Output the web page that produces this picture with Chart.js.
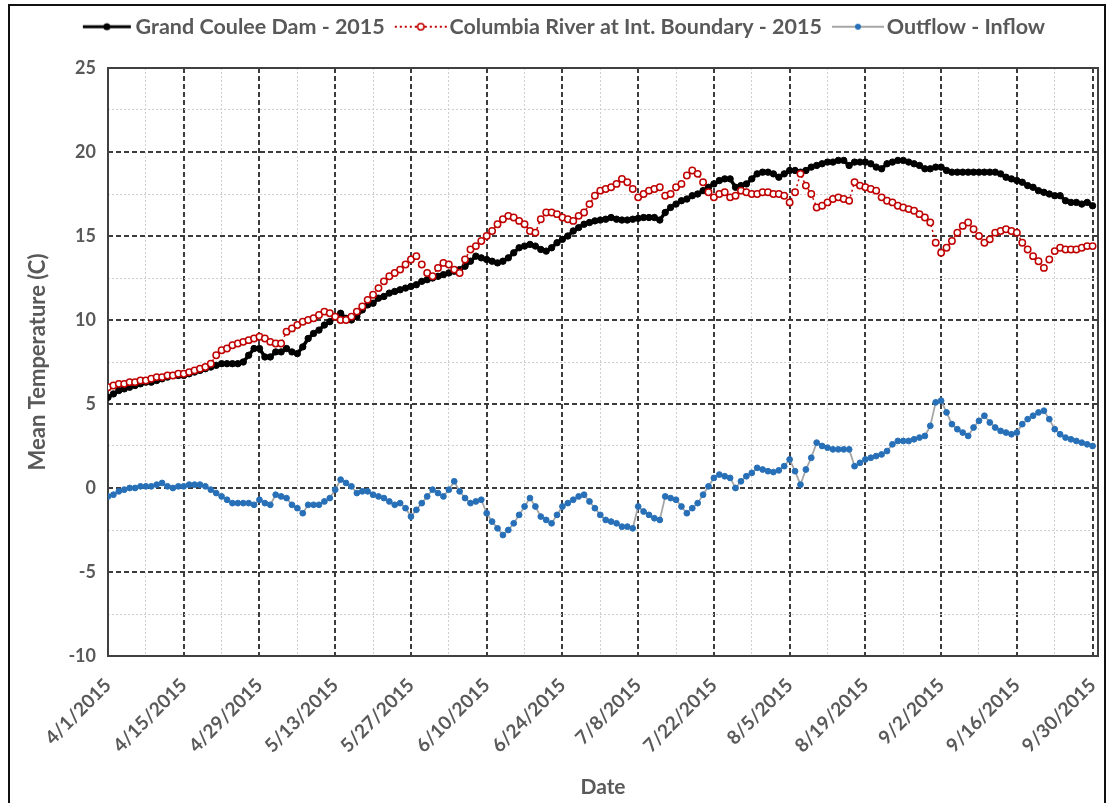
<!DOCTYPE html>
<html><head><meta charset="utf-8">
<script src="https://cdn.jsdelivr.net/npm/chart.js@4.4.0/dist/chart.umd.min.js"></script>
<style>html,body{margin:0;padding:0;background:#fff;}#wrap{width:1108px;height:803px;}</style>
</head><body><div id="wrap"><canvas id="c" width="1108" height="803"></canvas></div>
<script>
// ---- data ----
const seriesNames = ['Grand Coulee Dam - 2015', 'Columbia River at Int. Boundary - 2015', 'Outflow - Inflow'];
const tickLabels = ['4/1/2015','4/15/2015','4/29/2015','5/13/2015','5/27/2015','6/10/2015','6/24/2015','7/8/2015','7/22/2015','8/5/2015','8/19/2015','9/2/2015','9/16/2015','9/30/2015'];
const yTickValues = [-10, -5, 0, 5, 10, 15, 20, 25];
const xAxisTitle = 'Date';
const yAxisTitle = 'Mean Temperature (C)';

// daily values, 4/1/2015 .. 9/30/2015
const grandCoulee = [
 5.4,5.6,5.8,5.9,6.0,6.1,6.2,6.3,6.3,6.4,
 6.5,6.6,6.7,6.7,6.7,6.8,6.9,7.0,7.1,7.2,
 7.3,7.4,7.4,7.4,7.4,7.5,7.9,8.3,8.3,7.8,
 7.8,8.1,8.1,8.3,8.1,8.0,8.4,8.9,9.2,9.4,
 9.7,9.9,10.2,10.4,10.1,10.0,10.2,10.6,10.9,11.0,
 11.3,11.4,11.6,11.7,11.8,11.9,12.0,12.1,12.3,12.4,
 12.5,12.6,12.7,12.8,12.9,13.0,13.2,13.5,13.8,13.7,
 13.6,13.5,13.4,13.5,13.7,14.0,14.3,14.4,14.5,14.4,
 14.2,14.1,14.3,14.6,14.8,15.0,15.3,15.5,15.7,15.8,
 15.9,15.95,16.0,16.1,16.0,15.95,15.95,16.0,16.05,16.1,
 16.1,16.1,15.95,16.4,16.7,16.9,17.1,17.2,17.4,17.5,
 17.7,17.9,18.1,18.3,18.4,18.4,17.9,18.0,18.1,18.4,
 18.7,18.8,18.8,18.7,18.5,18.7,18.9,18.9,18.8,18.9,
 19.1,19.2,19.3,19.4,19.4,19.5,19.5,19.2,19.4,19.4,
 19.4,19.3,19.1,19.0,19.3,19.4,19.5,19.5,19.4,19.3,
 19.2,19.0,19.0,19.1,19.1,18.9,18.8,18.8,18.8,18.8,
 18.8,18.8,18.8,18.8,18.8,18.7,18.5,18.4,18.3,18.2,
 18.0,17.9,17.7,17.6,17.5,17.4,17.4,17.1,17.0,17.0,
 16.9,17.0,16.8
];
const columbiaBoundary = [
 6.0,6.1,6.2,6.2,6.3,6.3,6.4,6.4,6.5,6.6,
 6.6,6.7,6.7,6.8,6.8,6.9,7.0,7.1,7.2,7.4,
 7.9,8.2,8.3,8.5,8.6,8.7,8.8,8.9,9.0,8.9,
 8.7,8.6,8.6,9.3,9.5,9.7,9.9,10.0,10.1,10.3,
 10.5,10.4,10.2,10.0,10.0,10.2,10.5,10.8,11.2,11.5,
 11.9,12.3,12.6,12.8,13.0,13.3,13.6,13.8,13.3,12.8,
 12.6,13.1,13.4,13.3,13.0,12.8,13.6,14.2,14.4,14.7,
 15.0,15.3,15.7,16.0,16.2,16.1,15.9,15.7,15.3,15.2,
 16.0,16.4,16.4,16.3,16.1,16.0,15.9,16.2,16.4,16.9,
 17.4,17.7,17.8,17.9,18.1,18.4,18.2,17.8,17.3,17.5,
 17.7,17.8,17.9,17.4,17.5,17.9,18.1,18.6,18.9,18.7,
 18.2,17.6,17.3,17.5,17.6,17.3,17.4,17.7,17.6,17.5,
 17.5,17.6,17.6,17.5,17.5,17.4,17.0,17.6,18.7,18.0,
 17.5,16.7,16.8,17.0,17.2,17.3,17.2,17.1,18.2,18.0,
 17.9,17.8,17.7,17.3,17.1,17.0,16.8,16.7,16.6,16.5,
 16.3,16.1,15.8,14.6,14.0,14.3,14.7,15.2,15.6,15.8,
 15.4,15.0,14.6,14.8,15.2,15.3,15.4,15.3,15.2,14.6,
 14.2,13.8,13.5,13.1,13.6,14.1,14.3,14.2,14.2,14.2,
 14.3,14.4,14.4
];
const outflowMinusInflow = [
 -0.5,-0.4,-0.2,-0.1,0.0,0.0,0.1,0.1,0.1,0.2,
 0.3,0.1,0.0,0.1,0.1,0.2,0.2,0.2,0.1,-0.1,
 -0.3,-0.5,-0.7,-0.9,-0.9,-0.9,-0.9,-1.0,-0.7,-0.9,
 -1.0,-0.4,-0.5,-0.6,-1.0,-1.2,-1.5,-1.0,-1.0,-1.0,
 -0.8,-0.6,-0.1,0.5,0.3,0.1,-0.3,-0.2,-0.2,-0.4,
 -0.5,-0.6,-0.8,-1.0,-0.9,-1.2,-1.7,-1.3,-0.9,-0.5,
 -0.1,-0.3,-0.5,-0.1,0.4,-0.2,-0.6,-0.9,-0.8,-0.7,
 -1.5,-2.0,-2.4,-2.8,-2.5,-2.1,-1.6,-1.1,-0.6,-1.1,
 -1.7,-1.9,-2.1,-1.6,-1.1,-0.9,-0.7,-0.5,-0.4,-0.8,
 -1.2,-1.6,-1.9,-2.0,-2.1,-2.3,-2.3,-2.4,-1.1,-1.4,
 -1.6,-1.8,-1.9,-0.5,-0.6,-0.7,-1.1,-1.5,-1.2,-0.9,
 -0.4,0.1,0.6,0.8,0.7,0.6,0.0,0.4,0.7,0.9,
 1.2,1.1,1.0,0.95,1.05,1.3,1.7,1.0,0.2,1.1,
 1.8,2.7,2.5,2.4,2.3,2.3,2.3,2.3,1.3,1.5,
 1.7,1.8,1.9,2.0,2.2,2.6,2.8,2.8,2.8,2.9,
 3.0,3.1,3.7,5.1,5.2,4.5,3.8,3.5,3.3,3.1,
 3.6,4.0,4.3,3.9,3.6,3.4,3.3,3.2,3.3,3.8,
 4.1,4.3,4.5,4.6,4.1,3.5,3.2,3.0,2.9,2.8,
 2.7,2.6,2.5
];

// ---- styling ----
const TXT = '#595959';
const FONT = 'Lato, "Open Sans", sans-serif';
const MAJOR = '#3c3c3c';
const MINOR = '#cfcfcf';
const DAYS_PER_LABEL = 14;
const DAYS_PER_GRID = 7;

function toPoints(arr){ return arr.map((v,i)=>({x:i, y:v})); }

function swatch(kind){
  const c = document.createElement('canvas');
  c.width = 56; c.height = 12;
  const g = c.getContext('2d');
  const y = 6;
  if (kind === 0){
    g.strokeStyle = '#000'; g.lineWidth = 3;
    g.beginPath(); g.moveTo(4,y); g.lineTo(52,y); g.stroke();
    g.fillStyle = '#000'; g.beginPath(); g.arc(28,y,3.5,0,Math.PI*2); g.fill();
  } else if (kind === 1){
    g.strokeStyle = '#c00000'; g.lineWidth = 2; g.setLineDash([2,3]);
    g.beginPath(); g.moveTo(2,y); g.lineTo(54,y); g.stroke();
    g.setLineDash([]); g.fillStyle = '#fff'; g.lineWidth = 1.5;
    g.beginPath(); g.arc(28,y,3.2,0,Math.PI*2); g.fill(); g.stroke();
  } else {
    g.strokeStyle = '#a6a6a6'; g.lineWidth = 2;
    g.beginPath(); g.moveTo(2,y); g.lineTo(54,y); g.stroke();
    g.fillStyle = '#2770b8'; g.beginPath(); g.arc(28,y,3,0,Math.PI*2); g.fill();
  }
  return c;
}

const framePlugin = {
  id: 'frames',
  beforeLayout(chart){
    if (chart.legend && !chart.legend._patched){
      const fit = chart.legend.fit;
      chart.legend.fit = function(){ fit.call(this); this.height = 60; };
      chart.legend._patched = true;
    }
  },
  afterLayout(chart){
    if (chart.legend){ chart.legend.left += 36; chart.legend.top -= 10; }
  },
  beforeDatasetsDraw(chart){
    const a = chart.chartArea, g = chart.ctx;
    g.save(); g.strokeStyle = '#404040'; g.lineWidth = 2; g.setLineDash([]);
    g.strokeRect(a.left, a.top, a.right - a.left, a.bottom - a.top);
    g.restore();
  },
  afterDraw(chart){
    const g = chart.ctx;
    g.save(); g.strokeStyle = '#111'; g.lineWidth = 2;
    g.beginPath();
    g.moveTo(9, 810); g.lineTo(9, 5); g.lineTo(1105, 5); g.lineTo(1105, 810);
    g.stroke(); g.restore();
  }
};

const datasets = [
  {label: seriesNames[0], data: toPoints(grandCoulee), borderColor:'#000', backgroundColor:'#000',
   borderWidth:3.5, pointRadius:3.2, pointBackgroundColor:'#000', pointBorderColor:'#000', pointBorderWidth:1, order:3, tension:0},
  {label: seriesNames[1], data: toPoints(columbiaBoundary), borderColor:'#c00000', backgroundColor:'#fff',
   borderWidth:1.5, borderDash:[2,3], pointRadius:3.2, pointBackgroundColor:'#fff', pointBorderColor:'#c00000', pointBorderWidth:1.5, order:2, tension:0},
  {label: seriesNames[2], data: toPoints(outflowMinusInflow), borderColor:'#a6a6a6', backgroundColor:'#2770b8',
   borderWidth:1.8, pointRadius:2.9, pointBackgroundColor:'#2770b8', pointBorderColor:'#2770b8', pointBorderWidth:1, order:1, tension:0}
];

new Chart(document.getElementById('c'), {
  type: 'line',
  data: { datasets },
  plugins: [framePlugin],
  options: {
    responsive: false, animation: false, devicePixelRatio: 1,
    layout: { padding: { top: 8, right: 10, bottom: 0, left: 0 } },
    plugins: {
      tooltip: { enabled: false },
      legend: {
        position: 'top', align: 'center',
        labels: {
          usePointStyle: true, pointStyleWidth: 36, padding: 18,
          font: { family: FONT, size: 21.5, weight: 'bold' }, color: TXT,
          generateLabels(chart){
            return chart.data.datasets.map((ds,i)=>({
              text: ds.label, pointStyle: swatch(i), datasetIndex: i,
              fillStyle: 'rgba(0,0,0,0)', strokeStyle: 'rgba(0,0,0,0)', lineWidth: 0,
              fontColor: TXT, hidden: false
            }));
          }
        }
      }
    },
    scales: {
      x: {
        type: 'linear', min: 0, max: 183,
        afterFit(s){ s.height = 147; s.paddingLeft = 0; s.paddingRight = 0; },
        ticks: {
          stepSize: DAYS_PER_GRID, autoSkip: false, includeBounds: false,
          maxRotation: 45, minRotation: 45, padding: 18,
          color: TXT, font: { family: FONT, size: 19, weight: 'bold' },
          callback(v){ return v % DAYS_PER_LABEL === 0 ? tickLabels[v / DAYS_PER_LABEL] : ''; }
        },
        grid: {
          drawTicks: false,
          color(ctx){ const v = ctx.tick ? ctx.tick.value : 0; return v % DAYS_PER_LABEL === 0 ? MAJOR : MINOR; },
          lineWidth(ctx){ const v = ctx.tick ? ctx.tick.value : 0; return v % DAYS_PER_LABEL === 0 ? 2 : 1; }
        },
        border: {
          display: false,
          dash(ctx){ const v = ctx.tick ? ctx.tick.value : 0; return v % DAYS_PER_LABEL === 0 ? [5,3] : [2,2]; }
        },
        title: { display: true, text: xAxisTitle, color: TXT, font: { family: FONT, size: 21, weight: 'bold' }, padding: { top: 0, bottom: 3 } }
      },
      y: {
        min: -10, max: 25,
        afterFit(s){ s.width = 108; },
        ticks: {
          stepSize: 2.5, padding: 12, color: TXT,
          font: { family: FONT, size: 18, weight: 'bold' },
          callback(v){ return yTickValues.includes(v) ? String(v) : ''; }
        },
        grid: {
          drawTicks: false,
          color(ctx){ const v = ctx.tick ? ctx.tick.value : 0; return yTickValues.includes(v) ? MAJOR : MINOR; },
          lineWidth(ctx){ const v = ctx.tick ? ctx.tick.value : 0; return yTickValues.includes(v) ? 2 : 1; }
        },
        border: {
          display: false,
          dash(ctx){ const v = ctx.tick ? ctx.tick.value : 0; return yTickValues.includes(v) ? [5,3] : [2,2]; }
        },
        title: { display: true, text: yAxisTitle, color: TXT, font: { family: FONT, size: 22, weight: 'bold' }, padding: { top: 25, bottom: 0 } }
      }
    }
  }
});
</script>
</body></html>
